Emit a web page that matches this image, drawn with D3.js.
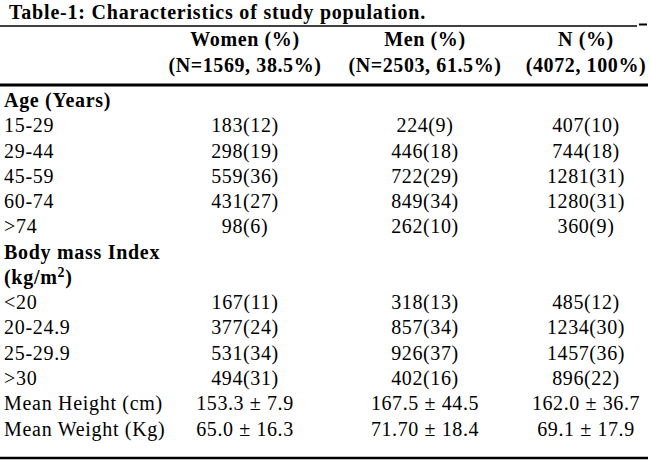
<!DOCTYPE html>
<html><head><meta charset="utf-8">
<script src="https://cdn.jsdelivr.net/npm/d3@7"></script>
<style>body{margin:0;background:#fff}svg{display:block}</style>
</head><body>
<svg id="c" width="650" height="466"></svg>
<script>
const title = "Table-1: Characteristics of study population.";
const columns = ["women", "men", "total"];
const headerLine1 = ["Women (%)", "Men (%)", "N (%)"];
const headerLine2 = ["(N=1569, 38.5%)", "(N=2503, 61.5%)", "(4072, 100%)"];
const rowLabels = ["Age (Years)", "15-29", "29-44", "45-59", "60-74", ">74", "Body mass Index", "(kg/m2)", "<20", "20-24.9", "25-29.9", ">30", "Mean Height (cm)", "Mean Weight (Kg)"];
const sectionRows = ["Age (Years)", "Body mass Index", "(kg/m2)"];
const women = ["", "183(12)", "298(19)", "559(36)", "431(27)", "98(6)", "", "", "167(11)", "377(24)", "531(34)", "494(31)", "153.3 ± 7.9", "65.0 ± 16.3"];
const men = ["", "224(9)", "446(18)", "722(29)", "849(34)", "262(10)", "", "", "318(13)", "857(34)", "926(37)", "402(16)", "167.5 ± 44.5", "71.70 ± 18.4"];
const total = ["", "407(10)", "744(18)", "1281(31)", "1280(31)", "360(9)", "", "", "485(12)", "1234(30)", "1457(36)", "896(22)", "162.0 ± 36.7", "69.1 ± 17.9"];

const svg = d3.select("#c");
const font = "'Liberation Serif', 'Times New Roman', serif";
const y = d3.scalePoint().domain(rowLabels).range([107, 435.6]);
const x = d3.scaleOrdinal().domain(columns).range([245, 425, 586]);
const values = {women, men, total};

// title
svg.append("text").attr("x", 9).attr("y", 19).text(title)
  .attr("font-family", font).attr("font-size", 20).attr("font-weight", "bold")
  .attr("letter-spacing", 0.8);

// rules
const rules = [
  {x1: 0, x2: 637, y: 26, w: 1.6},
  {x1: 639, x2: 647, y: 24.5, w: 2},
  {x1: 0, x2: 648, y: 85, w: 3},
  {x1: 0, x2: 648, y: 458, w: 2.5}
];
svg.selectAll("line.rule").data(rules).join("line").attr("class", "rule")
  .attr("x1", d => d.x1).attr("x2", d => d.x2).attr("y1", d => d.y).attr("y2", d => d.y)
  .attr("stroke", "#000").attr("stroke-width", d => d.w);

// headers
const hdr = svg.append("g").attr("font-family", font).attr("font-size", 20).attr("font-weight", "bold")
  .attr("text-anchor", "middle").attr("letter-spacing", 0.6);
hdr.selectAll("text.h1").data(columns).join("text").attr("class", "h1")
  .attr("x", d => x(d)).attr("y", 46).text((d, i) => headerLine1[i]);
hdr.selectAll("text.h2").data(columns).join("text").attr("class", "h2")
  .attr("x", d => x(d)).attr("y", 72).text((d, i) => headerLine2[i]);

// row labels
const lab = svg.append("g").attr("font-family", font).attr("font-size", 20).attr("letter-spacing", 0.7);
lab.selectAll("text").data(rowLabels).join("text")
  .attr("x", 4).attr("y", d => y(d))
  .attr("font-weight", d => sectionRows.includes(d) ? "bold" : "normal")
  .each(function(d) {
    const t = d3.select(this);
    if (d === "(kg/m2)") {
      t.append("tspan").text("(kg/m");
      t.append("tspan").attr("dy", -7).attr("font-size", 14).text("2");
      t.append("tspan").attr("dy", 7).text(")");
    } else t.text(d);
  });

// cells
const body = svg.append("g").attr("font-family", font).attr("font-size", 20)
  .attr("text-anchor", "middle").attr("letter-spacing", 0.6);
columns.forEach(c => {
  body.selectAll("text." + c).data(values[c].map((v, i) => ({v, r: rowLabels[i]})).filter(d => d.v))
    .join("text").attr("class", c)
    .attr("x", x(c)).attr("y", d => y(d.r)).text(d => d.v);
});
</script>
</body></html>
